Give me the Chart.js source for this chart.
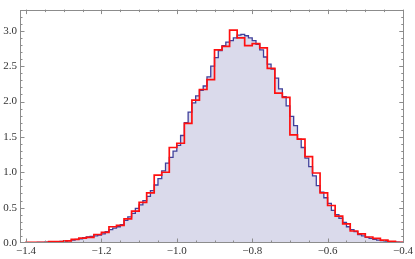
<!DOCTYPE html>
<html><head><meta charset="utf-8">
<script src="https://cdn.jsdelivr.net/npm/chart.js@4/dist/chart.umd.min.js"></script>
<style>html,body{margin:0;padding:0;background:#fff;overflow:hidden}canvas{display:block}</style>
</head><body>
<canvas id="c" width="415" height="259"></canvas>
<script>
// Red histogram: bins of width 0.02 starting at -1.40
const redStart = -1.40;
const redWidth = 0.02;
const redValues = [0.01,0.01,0.01,0.02,0.02,0.03,0.05,0.07,0.08,0.12,
  0.15,0.23,0.25,0.34,0.45,0.575,0.71,0.96,1.00,1.35,
  1.41,1.69,2.02,2.17,2.31,2.73,2.78,3.01,2.90,2.79,
  2.82,2.76,2.47,2.12,2.06,1.53,1.47,1.22,0.99,0.71,
  0.53,0.38,0.27,0.17,0.13,0.085,0.065,0.04,0.025,0.01];
// Blue histogram: bins of width 0.01 starting at -1.40
const blueStart = -1.40;
const blueWidth = 0.01;
const blueValues = [0.004,0.005,0.006,0.008,0.009,0.011,0.013,0.016,0.019,0.023,
  0.028,0.034,0.042,0.05,0.06,0.075,0.085,0.095,0.10,0.11,
  0.13,0.16,0.19,0.21,0.23,0.26,0.32,0.37,0.42,0.49,
  0.54,0.60,0.66,0.74,0.82,0.91,1.02,1.13,1.21,1.30,
  1.38,1.52,1.70,1.85,1.98,2.08,2.16,2.22,2.35,2.50,
  2.62,2.72,2.79,2.84,2.86,2.90,2.94,2.95,2.93,2.90,
  2.86,2.81,2.73,2.63,2.53,2.46,2.33,2.18,2.07,1.94,
  1.79,1.66,1.47,1.35,1.20,1.08,0.95,0.81,0.72,0.64,
  0.56,0.46,0.40,0.35,0.29,0.23,0.19,0.16,0.12,0.10,
  0.08,0.065,0.052,0.042,0.034,0.027,0.02,0.015,0.011,0.008];
const xTicks = [-1.4,-1.2,-1.0,-0.8,-0.6,-0.4];
const yTicks = [0,0.5,1.0,1.5,2.0,2.5,3.0];

function stepPoints(start, width, vals){
  const pts = [{x:start, y:0}];
  vals.forEach((v,i)=>pts.push({x:start+i*width, y:v}));
  pts.push({x:start+vals.length*width, y:0});
  return pts;
}
const minus = s => s.replace('-', '\u2212');
const FONT = 'Liberation Serif, serif';

const framePlugin = {
  id:'frame',
  afterDraw(chart){
    const {ctx, chartArea:a, scales:{x, y}} = chart;
    ctx.save();
    ctx.strokeStyle = '#8c8c8c';
    ctx.lineWidth = 1;
    ctx.strokeRect(Math.round(a.left)+0.5, Math.round(a.top)+0.5, Math.round(a.right-a.left)-1, Math.round(a.bottom-a.top)-1);
    ctx.beginPath();
    for (let k=-28; k<=-8; k++){
      const v = k*0.05;
      const px = Math.round(x.getPixelForValue(v))+0.5;
      if (px < a.left || px > a.right) continue;
      const len = (k%4===0) ? 4.5 : 2.5;
      ctx.moveTo(px, a.bottom); ctx.lineTo(px, a.bottom-len);
      ctx.moveTo(px, a.top); ctx.lineTo(px, a.top+len);
    }
    for (let k=0; k<=33; k++){
      const v = k*0.1;
      const py = Math.round(y.getPixelForValue(v))+0.5;
      if (py < a.top || py > a.bottom) continue;
      const len = (k%5===0) ? 4.5 : 2.5;
      ctx.moveTo(a.left, py); ctx.lineTo(a.left+len, py);
      ctx.moveTo(a.right, py); ctx.lineTo(a.right-len, py);
    }
    ctx.stroke();
    ctx.restore();
  }
};

new Chart(document.getElementById('c'), {
  type:'line',
  data:{datasets:[
    {label:'red', data:stepPoints(redStart, redWidth, redValues), stepped:true,
     borderColor:'#ff1010', borderWidth:1.7, pointRadius:0, fill:false, order:0},
    {label:'blue', data:stepPoints(blueStart, blueWidth, blueValues), stepped:true,
     borderColor:'rgb(64,64,155)', borderWidth:1.3, pointRadius:0,
     fill:'origin', backgroundColor:'rgb(218,218,235)', order:1}
  ]},
  plugins:[framePlugin],
  options:{
    responsive:false, animation:false, devicePixelRatio:1,
    layout:{padding:{left:0,right:11,top:0,bottom:0}},
    plugins:{legend:{display:false}, tooltip:{enabled:false}},
    scales:{
      x:{type:'linear', min:-1.416, max:-0.398,
         afterBuildTicks: s => { s.ticks = xTicks.map(v=>({value:v})); },
         afterFit: s => { s.height = 16; },
         grid:{display:false, drawTicks:false}, border:{display:false},
         ticks:{maxRotation:0, autoSkip:false, padding:2, color:'#333',
           font:{family:FONT, size:11},
           callback: v => minus(v.toFixed(1))}},
      y:{type:'linear', min:0, max:3.3,
         afterBuildTicks: s => { s.ticks = yTicks.map(v=>({value:v})); },
         afterFit: s => { s.width = 20; },
         grid:{display:false, drawTicks:false}, border:{display:false},
         ticks:{padding:3, color:'#333', font:{family:FONT, size:11},
           callback: v => v.toFixed(1)}}
    }
  }
});
</script>
</body></html>
